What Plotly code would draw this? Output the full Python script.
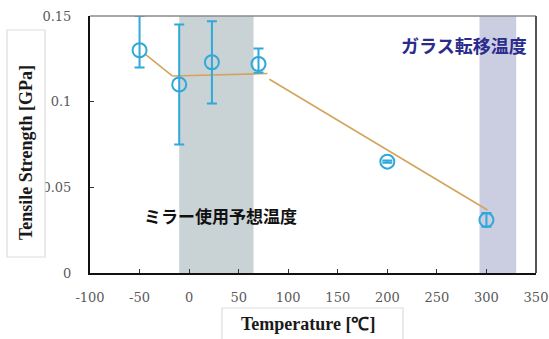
import plotly.graph_objects as go

# Measured tensile strength vs. temperature
temperature = [-50, -10, 23, 70, 200, 300]
strength = [0.130, 0.110, 0.123, 0.122, 0.065, 0.031]
err_plus = [0.020, 0.035, 0.024, 0.009, 0.0007, 0.004]
err_minus = [0.010, 0.035, 0.024, 0.005, 0.0007, 0.004]

# Trend segments
trend1_x = [-45, -17]
trend1_y = [0.128, 0.115]
trend2_x = [-17, 79]
trend2_y = [0.115, 0.1164]
trend3_x = [81, 301]
trend3_y = [0.1131, 0.0368]

# Temperature ranges
mirror_range = [-10, 65]
glass_range = [293, 330]

x_ticks = [-100, -50, 0, 50, 100, 150, 200, 250, 300, 350]
x_tick_text = ["-100", "-50", "0", "50", "100", "150", "200", "250", "300", "350"]
y_ticks = [0, 0.05, 0.1, 0.15]
y_tick_text = ["0", "0.05", "0.1", "0.15"]

fig = go.Figure()

fig.add_shape(type="rect", xref="x", yref="y", layer="below",
              x0=mirror_range[0], x1=mirror_range[1], y0=0, y1=0.15,
              fillcolor="#c9d3d5", line_width=0)
fig.add_shape(type="rect", xref="x", yref="y", layer="below",
              x0=glass_range[0], x1=glass_range[1], y0=0, y1=0.15,
              fillcolor="#cbcde1", line_width=0)

trend_color = "#d4a45e"
for tx, ty in [(trend1_x, trend1_y), (trend2_x, trend2_y), (trend3_x, trend3_y)]:
    fig.add_trace(go.Scatter(x=tx, y=ty, mode="lines",
                             line=dict(color=trend_color, width=1.6),
                             showlegend=False, hoverinfo="skip"))

fig.add_trace(go.Scatter(
    x=temperature, y=strength, mode="markers",
    marker=dict(symbol="circle-open", size=14, color="#2fa8da",
                line=dict(width=2, color="#2fa8da")),
    error_y=dict(type="data", symmetric=False, array=err_plus,
                 arrayminus=err_minus, color="#2fa8da", thickness=2, width=5),
    showlegend=False,
))

fig.add_annotation(x=277, y=0.133, text="<b>ガラス転移温度</b>",
                   showarrow=False, font=dict(family="Noto Sans CJK JP", size=18, color="#2b2b8c"))
fig.add_annotation(x=32, y=0.0333, text="<b>ミラー使用予想温度</b>", showarrow=False,
                   font=dict(family="Noto Sans CJK JP", size=17, color="#111111"))

fig.update_layout(
    width=549, height=339,
    margin=dict(l=90, r=13, t=16, b=66),
    paper_bgcolor="white", plot_bgcolor="white",
    font=dict(family="DejaVu Serif", size=13, color="#5a5a5a"),
    xaxis=dict(range=[-100, 350], tickvals=x_ticks, ticktext=x_tick_text,
               ticks="inside", ticklen=4,
               tickcolor="#333333", showgrid=False, zeroline=False,
               showline=True, linecolor="#111111", linewidth=2, mirror=False,
               ticklabelstandoff=11, automargin=False),
    yaxis=dict(range=[0, 0.15], tickvals=y_ticks, ticktext=y_tick_text,
               ticks="inside", ticklen=4, tickcolor="#333333", showgrid=False,
               zeroline=False, showline=True, linecolor="#111111", linewidth=2,
               ticklabelstandoff=14, automargin=False),
)

# Remaining plot frame (top and right edges)
fig.add_shape(type="line", xref="paper", yref="paper", x0=0, x1=1, y0=1, y1=1,
              line=dict(color="#8a8a8a", width=1.5))
fig.add_shape(type="line", xref="paper", yref="paper", x0=1, x1=1, y0=0, y1=1,
              line=dict(color="#555555", width=2))

# Boxed axis titles
fig.add_shape(type="rect", xref="paper", yref="paper", layer="above",
              x0=(7 - 90) / 446, x1=(45 - 90) / 446,
              y0=(273 - 257) / 257, y1=(273 - 30) / 257,
              line=dict(color="#dddddd", width=1.2), fillcolor="white")
fig.add_annotation(xref="paper", yref="paper", x=(26 - 90) / 446, y=(273 - 153) / 257,
                   xanchor="center", yanchor="middle",
                   text="<b>Tensile Strength [GPa]</b>", textangle=-90, showarrow=False,
                   font=dict(family="Liberation Serif", size=18, color="#1a1a1a"))
fig.add_shape(type="rect", xref="paper", yref="paper", layer="above",
              x0=(222 - 90) / 446, x1=(403 - 90) / 446,
              y0=(273 - 345) / 257, y1=(273 - 308) / 257,
              line=dict(color="#dddddd", width=1.2), fillcolor="white")
fig.add_annotation(xref="paper", yref="paper", x=(308 - 90) / 446, y=(273 - 324) / 257,
                   xanchor="center", yanchor="middle",
                   text="<b>Temperature [℃]</b>", showarrow=False,
                   font=dict(family="Liberation Serif", size=18, color="#1a1a1a"))

fig.write_html("out.html")
